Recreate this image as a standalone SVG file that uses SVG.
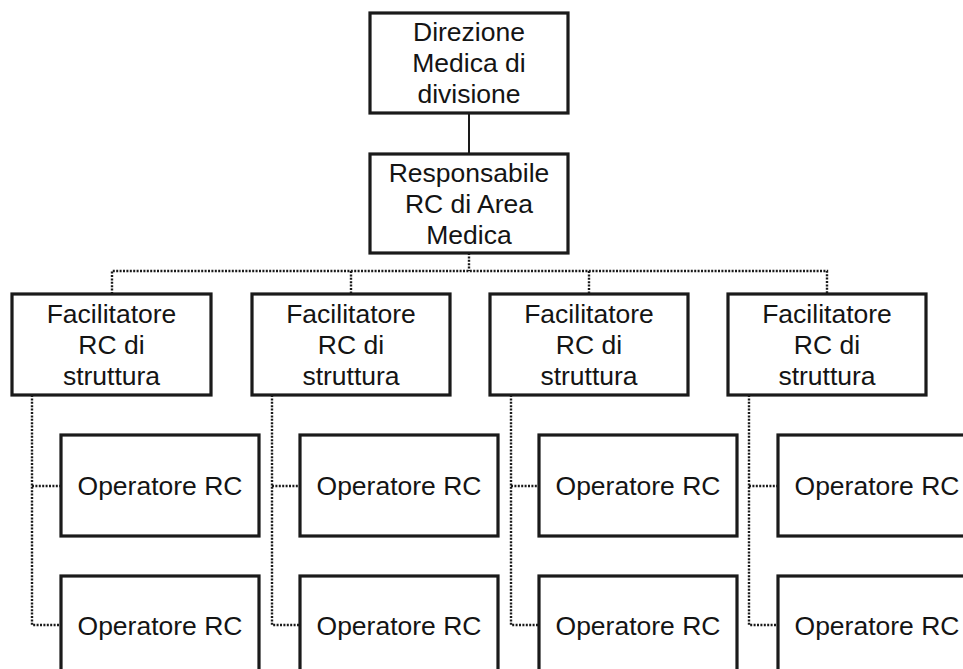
<svg xmlns="http://www.w3.org/2000/svg" width="963" height="669" viewBox="0 0 963 669">
<style>
.box{fill:#fff;stroke:#1a1a1a;stroke-width:3.2}
.t{font-family:"Liberation Sans",Arial,sans-serif;font-size:26.5px;fill:#141414;text-anchor:middle}
.solid{fill:none;stroke:#1a1a1a;stroke-width:2}
.dot{fill:none;stroke:#1a1a1a;stroke-width:2.4;stroke-dasharray:2 1.4}
</style>
<rect width="963" height="669" fill="#fff"/>
<g id="connectors">
<line class="solid" x1="469" y1="113" x2="469" y2="154"/>
<path class="dot" d="M469 253V271M112 294V271H827V294M351 271V294M589 271V294"/>
<path class="dot" d="M32 395V625H61M32 486H61"/>
<path class="dot" d="M272 395V625H300M272 486H300"/>
<path class="dot" d="M511 395V625H539M511 486H539"/>
<path class="dot" d="M749 395V625H778M749 486H778"/>
</g>
<g id="direzione"><rect class="box" x="370" y="13" width="198" height="100"/><text class="t" x="469" y="41">Direzione</text><text class="t" x="469" y="72">Medica di</text><text class="t" x="469" y="103">divisione</text></g>
<g id="responsabile"><rect class="box" x="370" y="154" width="198" height="99"/><text class="t" x="469" y="182">Responsabile</text><text class="t" x="469" y="213">RC di Area</text><text class="t" x="469" y="244">Medica</text></g>
<g id="fac1"><rect class="box" x="12" y="294" width="199" height="101"/><text class="t" x="111.5" y="323">Facilitatore</text><text class="t" x="111.5" y="354">RC di</text><text class="t" x="111.5" y="385">struttura</text></g>
<g id="fac2"><rect class="box" x="252" y="294" width="198" height="101"/><text class="t" x="351" y="323">Facilitatore</text><text class="t" x="351" y="354">RC di</text><text class="t" x="351" y="385">struttura</text></g>
<g id="fac3"><rect class="box" x="490" y="294" width="198" height="101"/><text class="t" x="589" y="323">Facilitatore</text><text class="t" x="589" y="354">RC di</text><text class="t" x="589" y="385">struttura</text></g>
<g id="fac4"><rect class="box" x="728" y="294" width="198" height="101"/><text class="t" x="827" y="323">Facilitatore</text><text class="t" x="827" y="354">RC di</text><text class="t" x="827" y="385">struttura</text></g>
<g id="op1a"><rect class="box" x="61" y="435" width="198" height="101"/><text class="t" x="160" y="495">Operatore RC</text></g>
<g id="op1b"><rect class="box" x="61" y="576" width="198" height="101"/><text class="t" x="160" y="635">Operatore RC</text></g>
<g id="op2a"><rect class="box" x="300" y="435" width="198" height="101"/><text class="t" x="399" y="495">Operatore RC</text></g>
<g id="op2b"><rect class="box" x="300" y="576" width="198" height="101"/><text class="t" x="399" y="635">Operatore RC</text></g>
<g id="op3a"><rect class="box" x="539" y="435" width="198" height="101"/><text class="t" x="638" y="495">Operatore RC</text></g>
<g id="op3b"><rect class="box" x="539" y="576" width="198" height="101"/><text class="t" x="638" y="635">Operatore RC</text></g>
<g id="op4a"><rect class="box" x="778" y="435" width="198" height="101"/><text class="t" x="877" y="495">Operatore RC</text></g>
<g id="op4b"><rect class="box" x="778" y="576" width="198" height="101"/><text class="t" x="877" y="635">Operatore RC</text></g>
</svg>
